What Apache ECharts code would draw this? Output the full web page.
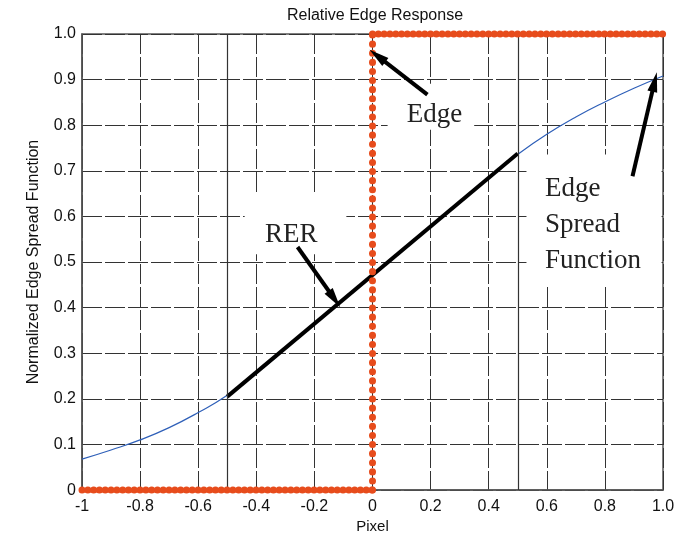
<!DOCTYPE html>
<html>
<head>
<meta charset="utf-8">
<script src="https://cdn.jsdelivr.net/npm/echarts@6/dist/echarts.min.js"></script>
<style>
  html, body { margin: 0; padding: 0; background: #fff; }
  #chart { width: 685px; height: 539px; }
</style>
</head>
<body>
<div id="chart"></div>
<script>
// Edge spread function samples (pixel offset, normalized response)
const esfX = [-1.0, -0.9, -0.8, -0.7, -0.6, -0.5, -0.4, -0.3, -0.2, -0.1, 0.0,
              0.1, 0.2, 0.3, 0.4, 0.5, 0.6, 0.7, 0.8, 0.9, 1.0];
const esfY = [0.068, 0.088, 0.110, 0.137, 0.170, 0.208, 0.256, 0.309, 0.363, 0.417, 0.471,
              0.525, 0.579, 0.633, 0.686, 0.736, 0.780, 0.818, 0.851, 0.881, 0.908];

// Ideal edge (step) corners
const edgeX = [-1, 0, 0, 1];
const edgeY = [0, 0, 1, 1];

// Relative edge response segment between -0.5 and +0.5 pixel
const rerX = [-0.5, 0.5];
const rerY = [0.205, 0.738];

// Axis tick labels
const xTickLabels = ['-1', '-0.8', '-0.6', '-0.4', '-0.2', '0', '0.2', '0.4', '0.6', '0.8', '1.0'];
const yTickLabels = ['0', '0.1', '0.2', '0.3', '0.4', '0.5', '0.6', '0.7', '0.8', '0.9', '1.0'];

// Annotation callouts: [fromX, fromY] -> [toX, toY]
const arrowEdge = [[0.189, 0.867], [0.017, 0.952]];
const arrowRER = [[-0.258, 0.533], [-0.131, 0.419]];
const arrowESF = [[0.895, 0.688], [0.971, 0.895]];

const RED = '#e74c1c';
const GRID = '#333';

const chart = echarts.init(document.getElementById('chart'), null, { renderer: 'canvas' });

const esfData = esfX.map((x, i) => [x, esfY[i]]);
const rerData = rerX.map((x, i) => [x, rerY[i]]);
const edgeBottom = [[edgeX[0], edgeY[0]], [edgeX[1], edgeY[1]]];
const edgeRise = [[edgeX[1], edgeY[1]], [edgeX[2], edgeY[2]]];
const edgeTop = [[edgeX[2], edgeY[2]], [edgeX[3], edgeY[3]]];

function dots(data, gap) {
  return {
    type: 'line', data: data, showSymbol: false, clip: false, z: 6, silent: true,
    lineStyle: { color: RED, width: 7, type: [0.1, gap], cap: 'round' }
  };
}

function arrowLine(a) {
  return [{ coord: a[0], symbol: 'none' }, { coord: a[1], symbol: 'triangle', symbolSize: [10, 20] }];
}

const font = '"Liberation Sans", Arial, sans-serif';
const serif = '"Liberation Serif", "Times New Roman", serif';

chart.setOption({
  animation: false,
  backgroundColor: '#fff',
  title: {
    text: 'Relative Edge Response',
    left: 370, top: 3, textAlign: 'center',
    textStyle: { fontFamily: font, fontSize: 16, fontWeight: 'normal', color: '#111' }
  },
  grid: { left: 82, right: 22, top: 34, bottom: 47, show: true, borderColor: '#555', borderWidth: 1.5, backgroundColor: 'transparent' },
  xAxis: {
    type: 'value', min: -1, max: 1, interval: 0.2,
    name: 'Pixel', nameLocation: 'middle', nameGap: 27,
    nameTextStyle: { fontFamily: font, fontSize: 15, color: '#111' },
    axisLine: { show: true, onZero: false, lineStyle: { color: '#555', width: 1.5 } },
    axisTick: { show: false },
    axisLabel: {
      margin: 8, fontFamily: font, fontSize: 16, color: '#111',
      formatter: v => xTickLabels[Math.round((v + 1) / 0.2)]
    },
    splitLine: { show: true, lineStyle: { color: GRID, width: 1, type: [20, 3] } }
  },
  yAxis: {
    type: 'value', min: 0, max: 1, interval: 0.1,
    name: 'Normalized Edge Spread Function', nameLocation: 'middle', nameGap: 40,
    nameTextStyle: { fontFamily: font, fontSize: 16, color: '#111' },
    axisLine: { show: true, onZero: false, lineStyle: { color: '#555', width: 1.5 } },
    axisTick: { show: false },
    axisLabel: {
      margin: 6, fontFamily: font, fontSize: 16, color: '#111',
      formatter: v => yTickLabels[Math.round(v / 0.1)]
    },
    splitLine: { show: true, lineStyle: { color: GRID, width: 1, type: [20, 3] } }
  },
  series: [
    {
      name: 'ESF', type: 'line', data: esfData, smooth: true, showSymbol: false, z: 3,
      lineStyle: { color: '#2e5fb8', width: 1.2 },
      markLine: {
        silent: true, symbol: 'none', label: { show: false },
        lineStyle: { color: '#333', width: 1.2, type: 'solid' },
        data: [{ xAxis: rerX[0] }, { xAxis: rerX[1] }]
      }
    },
    {
      name: 'RER', type: 'line', data: rerData, showSymbol: false, z: 4,
      lineStyle: { color: '#000', width: 4 },
      markLine: {
        silent: true, label: { show: false }, z: 8,
        lineStyle: { color: '#000', width: 4, type: 'solid' },
        data: [arrowLine(arrowEdge), arrowLine(arrowRER), arrowLine(arrowESF)]
      }
    },
    dots(edgeBottom, 5.7),
    dots(edgeRise, 9.0),
    dots(edgeTop, 5.7)
  ]
});

// White label boxes and callout text placed in data coordinates
const px = p => chart.convertToPixel({ gridIndex: 0 }, p);
function box(x0, y0, x1, y1) {
  const a = px([x0, y1]), b = px([x1, y0]);
  return { type: 'rect', z: 1, silent: true,
           shape: { x: a[0], y: a[1], width: b[0] - a[0], height: b[1] - a[1] },
           style: { fill: '#fff' } };
}
function label(x, y, text) {
  const p = px([x, y]);
  return { type: 'text', z: 10, silent: true, x: p[0], y: p[1],
           style: { text: text, font: '27px ' + serif, fill: '#222',
                    textAlign: 'left', textVerticalAlign: 'top', lineHeight: 36 } };
}
chart.setOption({
  graphic: [
    box(0.052, 0.79, 0.35, 0.891),
    box(-0.44, 0.517, -0.09, 0.648),
    box(0.53, 0.452, 0.995, 0.736),
    label(0.118, 0.862, 'Edge'),
    label(-0.37, 0.6, 'RER'),
    label(0.594, 0.70, 'Edge\nSpread\nFunction')
  ]
});
</script>
</body>
</html>
